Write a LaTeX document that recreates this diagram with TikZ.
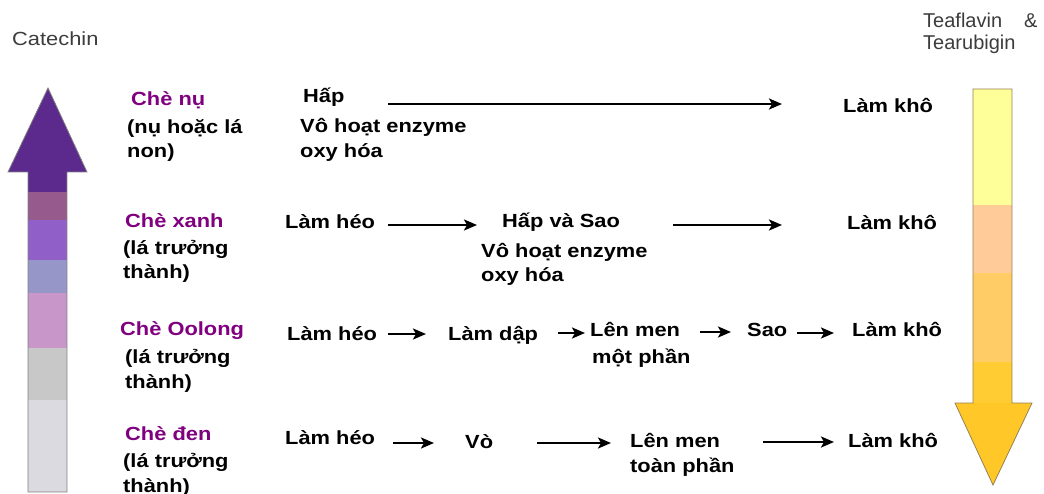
\documentclass[tikz,border=0pt]{standalone}
\usepackage{fontspec}
\setmainfont{Liberation Sans}[FakeStretch=1.15]
\newfontfamily\plainsans{Liberation Sans}
\usetikzlibrary{arrows.meta}
\definecolor{chepurple}{RGB}{128,0,128}
\definecolor{capgray}{RGB}{60,60,60}
\definecolor{cHead}{RGB}{92,42,140}
\definecolor{cMauve}{RGB}{150,90,140}
\definecolor{cPurple}{RGB}{145,95,200}
\definecolor{cLav}{RGB}{150,150,200}
\definecolor{cPink}{RGB}{200,150,200}
\definecolor{cGray}{RGB}{200,200,200}
\definecolor{cLGray}{RGB}{218,218,224}
\definecolor{yYel}{RGB}{255,255,153}
\definecolor{yPeach}{RGB}{255,204,153}
\definecolor{yLOr}{RGB}{255,204,102}
\definecolor{yOr}{RGB}{255,204,51}
\definecolor{yHead}{RGB}{255,200,40}
\definecolor{yEdge}{RGB}{150,130,80}
\begin{document}
\begin{tikzpicture}[x=1pt,y=-1pt,
  txt/.style={anchor=base west, inner sep=0pt, font=\fontsize{19}{24}\selectfont\bfseries},
  typ/.style={txt, text=chepurple},
  headtxt/.style={anchor=base west, inner sep=0pt, text=capgray, font=\fontsize{19}{24}\selectfont},
  headsm/.style={anchor=base west, inner sep=0pt, text=capgray, font=\plainsans\fontsize{20}{24}\selectfont},
  arr/.style={line width=2.4pt, -{Stealth[length=13pt,width=11pt,inset=3pt]}}]
\useasboundingbox (0,0) rectangle (1044,494);
\fill[white] (0,0) rectangle (1044,494);

% left arrow (Catechin)
\fill[cHead]  (28,168) rectangle (67,192);
\fill[cMauve] (28,192) rectangle (67,220);
\fill[cPurple](28,220) rectangle (67,260);
\fill[cLav]   (28,260) rectangle (67,293);
\fill[cPink]  (28,293) rectangle (67,348);
\fill[cGray]  (28,348) rectangle (67,400);
\fill[cLGray] (28,400) rectangle (67,492);
\fill[cHead] (8,172) -- (48,88) -- (87,172) -- cycle;
\draw[gray, line width=0.8pt] (28,492) -- (28,172) -- (8,172) -- (48,88) -- (87,172) -- (67,172) -- (67,492) -- cycle;

% right arrow (Teaflavin & Tearubigin)
\fill[yYel]   (973,89) rectangle (1012,205);
\fill[yPeach] (973,205) rectangle (1012,273);
\fill[yLOr]   (973,273) rectangle (1012,362);
\fill[yOr]    (973,362) rectangle (1012,406);
\fill[yHead] (955,403) -- (1032,403) -- (993,485) -- cycle;
\draw[yEdge, line width=0.8pt] (973,89) -- (1012,89) -- (1012,403) -- (1032,403) -- (993,485) -- (955,403) -- (973,403) -- cycle;

% headings
\node[headtxt] (catechin) at (12,46) {Catechin};
\node[headsm] (tea1) at (923,28) {Teaflavin\hspace{22pt}\&};
\node[headsm] (tea2) at (923,50) {Tearubigin};

% row 1
\node[typ] (n1) at (131,106) {Chè nụ};
\node[txt] (n1a) at (127,134) {(nụ hoặc lá};
\node[txt] (n1b) at (127,158) {non)};
\node[txt] (r1a) at (303,103) {Hấp};
\node[txt] (r1b) at (300,133) {Vô hoạt enzyme};
\node[txt] (r1c) at (300,158) {oxy hóa};
\node[txt] (r1d) at (843,113) {Làm khô};
\coordinate (a1s) at (388,104);
\coordinate (a1e) at (782,104);
\draw[arr] (a1s) -- (a1e);

% row 2
\node[typ] (n2) at (125,228) {Chè xanh};
\node[txt] (n2a) at (123,255) {(lá trưởng};
\node[txt] (n2b) at (123,279) {thành)};
\node[txt] (r2a) at (285,229) {Làm héo};
\node[txt] (r2b) at (502,228) {Hấp và Sao};
\node[txt] (r2c) at (481,258) {Vô hoạt enzyme};
\node[txt] (r2d) at (481,282) {oxy hóa};
\node[txt] (r2e) at (847,230) {Làm khô};
\coordinate (a2s) at (388,225);
\coordinate (a2e) at (477,225);
\coordinate (a3s) at (673,225);
\coordinate (a3e) at (782,225);
\draw[arr] (a2s) -- (a2e);
\draw[arr] (a3s) -- (a3e);

% row 3
\node[typ] (n3) at (120,335) {Chè Oolong};
\node[txt] (n3a) at (125,363) {(lá trưởng};
\node[txt] (n3b) at (125,388) {thành)};
\node[txt] (r3a) at (287,341) {Làm héo};
\node[txt] (r3b) at (448,341) {Làm dập};
\node[txt] (r3c) at (590,337) {Lên men};
\node[txt] (r3d) at (592,363) {một phần};
\node[txt] (r3e) at (747,337) {Sao};
\node[txt] (r3f) at (852,337) {Làm khô};
\coordinate (a4s) at (388,334);
\coordinate (a4e) at (426,334);
\coordinate (a5s) at (558,333);
\coordinate (a5e) at (585,333);
\coordinate (a6s) at (700,332);
\coordinate (a6e) at (731,332);
\coordinate (a7s) at (797,333);
\coordinate (a7e) at (834,333);
\draw[arr] (a4s) -- (a4e);
\draw[arr] (a5s) -- (a5e);
\draw[arr] (a6s) -- (a6e);
\draw[arr] (a7s) -- (a7e);

% row 4
\node[typ] (n4) at (125,440) {Chè đen};
\node[txt] (n4a) at (123,467) {(lá trưởng};
\node[txt] (n4b) at (123,492) {thành)};
\node[txt] (r4a) at (285,444) {Làm héo};
\node[txt] (r4b) at (465,448) {Vò};
\node[txt] (r4c) at (630,447) {Lên men};
\node[txt] (r4d) at (630,472) {toàn phần};
\node[txt] (r4e) at (848,447) {Làm khô};
\coordinate (a8s) at (393,443);
\coordinate (a8e) at (434,443);
\coordinate (a9s) at (537,443);
\coordinate (a9e) at (611,443);
\coordinate (a10s) at (763,442);
\coordinate (a10e) at (834,442);
\draw[arr] (a8s) -- (a8e);
\draw[arr] (a9s) -- (a9e);
\draw[arr] (a10s) -- (a10e);
\end{tikzpicture}
\end{document}
